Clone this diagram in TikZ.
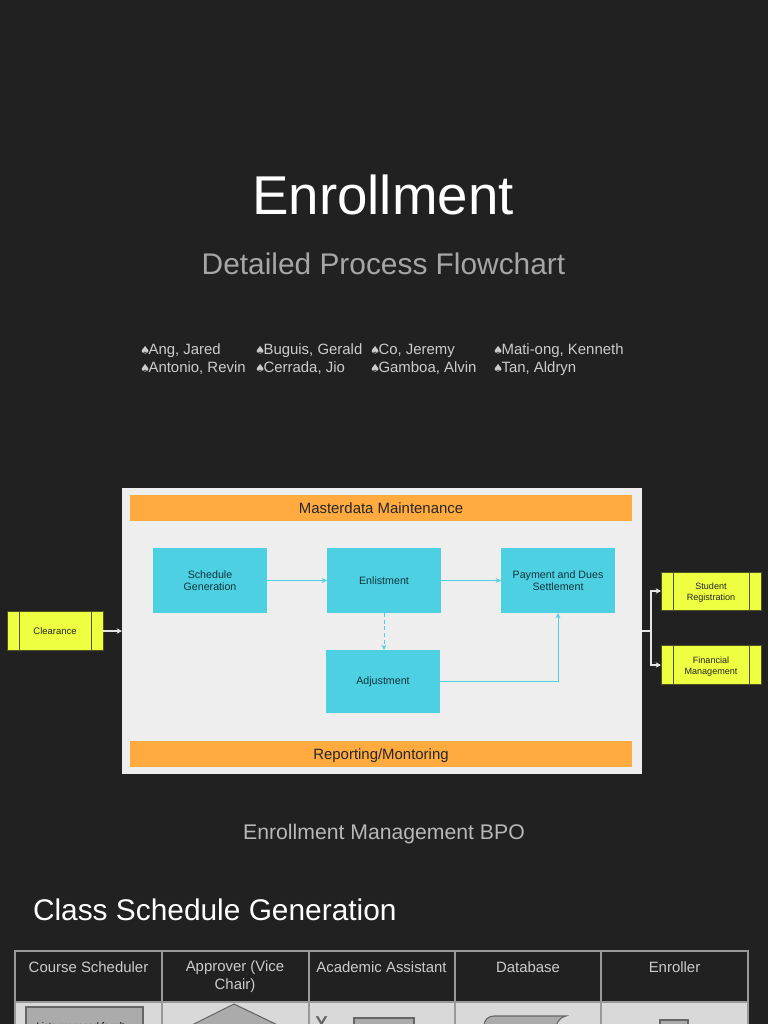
\documentclass[tikz,border=0pt]{standalone}
\usepackage{fontspec}
\setmainfont{Liberation Sans}
\newfontfamily\symfont{DejaVu Sans}
\usetikzlibrary{arrows.meta}
\definecolor{bgdark}{HTML}{212121}
\definecolor{panelgrey}{HTML}{EEEEEE}
\definecolor{barorange}{HTML}{FFAB40}
\definecolor{boxcyan}{HTML}{4DD0E1}
\definecolor{boxtext}{HTML}{10343C}
\definecolor{boxyellow}{HTML}{EEFF41}
\definecolor{yellowline}{HTML}{4F5320}
\definecolor{tableline}{HTML}{999999}
\definecolor{cellgrey}{HTML}{D9D9D9}
\definecolor{shapegrey}{HTML}{ABABAB}
\definecolor{shapeline}{HTML}{666666}
\newcommand{\pxfont}[2]{\fontsize{#1}{#2}\selectfont}
\newcommand{\spd}{{\symfont\fontsize{8.5}{10}\selectfont ♠}\kern-1.2pt}
\tikzset{
  x=0.75pt, y=-0.75pt,
  txt/.style={inner sep=0pt, outer sep=0pt, anchor=base},
  txtl/.style={inner sep=0pt, outer sep=0pt, anchor=base west},
  bar/.style={fill=barorange, draw=none, minimum width=376.5pt, minimum height=19.5pt, inner sep=0pt, outer sep=0pt, text=black!85, font=\pxfont{11.2}{13}},
  bartxt/.style={txt, text=black!85, font=\pxfont{11.2}{13}},
  procbox/.style={fill=boxcyan, draw=none, minimum width=85.5pt, inner sep=0pt, outer sep=0pt, align=center, text=boxtext, font=\pxfont{8}{9}},
  extbox/.style={fill=boxyellow, draw=yellowline, line width=0.6pt, minimum width=72pt, inner sep=0pt, outer sep=0pt, align=center, text=black!85, font=\pxfont{6.8}{8.6},
    path picture={
      \draw[yellowline, line width=0.7pt] ([xshift=9pt]path picture bounding box.north west) -- ([xshift=9pt]path picture bounding box.south west);
      \draw[yellowline, line width=0.7pt] ([xshift=-9pt]path picture bounding box.north east) -- ([xshift=-9pt]path picture bounding box.south east);
    }},
  flow/.style={draw=boxcyan, line width=0.75pt, -{Stealth[length=4pt,width=3.6pt]}},
  whiteflow/.style={draw=white!90!black, line width=0.9pt, -{Stealth[length=4pt,width=4pt]}},
  nametxt/.style={txtl, text=white!80!black, font=\pxfont{11.2}{14}},
  headtxt/.style={inner sep=0pt, outer sep=0pt, anchor=base, text=white!80!black, font=\pxfont{11.2}{13.5}},
  grid/.style={draw=tableline, line width=2.2pt},
  shp/.style={fill=shapegrey, draw=shapeline, line width=0.8pt},
}
\begin{document}
\begin{tikzpicture}
\useasboundingbox (0,0) rectangle (768,1024);
\fill[bgdark] (0,0) rectangle (768,1024);

% titles
\node[txt, text=white, font=\pxfont{41}{46}] (title) at (383,214) {Enrollment};
\node[txt, text=white!65!black, font=\pxfont{22.4}{26}] (subtitle) at (383.5,274) {Detailed Process Flowchart};

% names
\node[nametxt] (n1) at (140,354) {\spd Ang, Jared};
\node[nametxt] (n2) at (140,372) {\spd Antonio, Revin};
\node[nametxt] (n3) at (255,354) {\spd Buguis, Gerald};
\node[nametxt] (n4) at (255,372) {\spd Cerrada, Jio};
\node[nametxt] (n5) at (370,354) {\spd Co, Jeremy};
\node[nametxt] (n6) at (370,372) {\spd Gamboa, Alvin};
\node[nametxt] (n7) at (493,354) {\spd Mati-ong, Kenneth};
\node[nametxt] (n8) at (493,372) {\spd Tan, Aldryn};

% panel
\node[fill=panelgrey, draw=none, minimum width=390pt, minimum height=214.5pt, inner sep=0pt, outer sep=0pt] (panel) at (382,631) {};
\node[bar] (master) at (381,508) {};
\node[bartxt] (mastertxt) at (381,513) {Masterdata Maintenance};
\node[bar] (report) at (381,754) {};
\node[bartxt] (reporttxt) at (381,759) {Reporting/Montoring};

\node[procbox, minimum height=48.75pt] (sched) at (210,580.5) {Schedule\\Generation};
\node[procbox, minimum height=48.75pt] (enl) at (384,580.5) {Enlistment};
\node[procbox, minimum height=48.75pt] (pay) at (558,580.5) {Payment and Dues\\Settlement};
\node[procbox, minimum height=47.25pt, text height=6pt, text depth=1pt] (adj) at (383,681.5) {Adjustment};

\draw[flow] (sched) -- (enl);
\draw[flow] (enl) -- (pay);
\draw[flow, dash pattern=on 3pt off 2pt] (enl.south) -- (enl.south |- adj.north);
\draw[flow] (adj.east) -| (pay.south);

% external boxes
\node[extbox, minimum width=72pt, minimum height=29.5pt, font=\pxfont{7.1}{8.6}] (clear) at (55,631) {Clearance};
\node[extbox, minimum width=75pt, minimum height=28.5pt] (student) at (711,591) {\rule{0pt}{7.5pt}Student\\Registration};
\node[extbox, minimum width=75pt, minimum height=29.5pt] (finance) at (711,665) {\rule{0pt}{7.5pt}Financial\\Management};

\coordinate (fork) at (651,631);
\draw[whiteflow] (clear.east) -- (clear.east -| panel.west);
\draw[draw=white!90!black, line width=0.9pt] (fork -| panel.east) -- (fork);
\draw[whiteflow] (fork) |- (student.west);
\draw[whiteflow] (fork) |- (finance.west);

% captions
\node[txt, text=white!72!black, font=\pxfont{15.9}{19}] (bpo) at (384,839) {Enrollment Management BPO};
\node[txtl, text=white, font=\pxfont{22.4}{26}] (classgen) at (33,920) {Class Schedule Generation};

% table
\begin{scope}
\clip (0,0) rectangle (768,1024);
\fill[cellgrey] (15,1002) rectangle (748,1030);
\draw[grid] (15,951) rectangle (748,1030);
\draw[grid] (15,1002) -- (748,1002);
\foreach \cx in {162,309,455,601} \draw[grid] (\cx,951) -- (\cx,1030);

\node[shp, minimum width=87.75pt, minimum height=30pt, inner sep=0pt] (lists) at (84.5,1027) {};
\node[txt, text=black, font=\pxfont{7.2}{9}] (liststxt) at (83,1029) {Lists proposed faculty};
\draw[shp] (234,1004) -- (288,1030) -- (182,1030) -- cycle;
\node[txt, text=shapeline, font=\bfseries\pxfont{14}{16}] (yes) at (321.5,1029) {Y};
\node[shp, minimum width=45pt, minimum height=15pt, inner sep=0pt] (aa) at (384,1028) {};
\draw[shp] (484,1032) -- (484,1026) .. controls (484,1020) and (488,1016) .. (494,1016) -- (566,1016) .. controls (560,1017) and (556,1022) .. (555,1032) -- cycle;
\node[shp, minimum width=21pt, minimum height=15pt, inner sep=0pt] (enr) at (674,1030) {};
\draw[shapeline!70!shapegrey, line width=0.6pt] (669,1027) arc[start angle=180, end angle=0, radius=5];
\end{scope}

\node[headtxt] (h1) at (88.5,972) {Course Scheduler};
\node[headtxt, align=center, anchor=north] (h2) at (235,961) {Approver (Vice\\Chair)};
\node[headtxt] (h3) at (381.5,972) {Academic Assistant};
\node[headtxt] (h4) at (528,972) {Database};
\node[headtxt] (h5) at (674.5,972) {Enroller};
\end{tikzpicture}
\end{document}
